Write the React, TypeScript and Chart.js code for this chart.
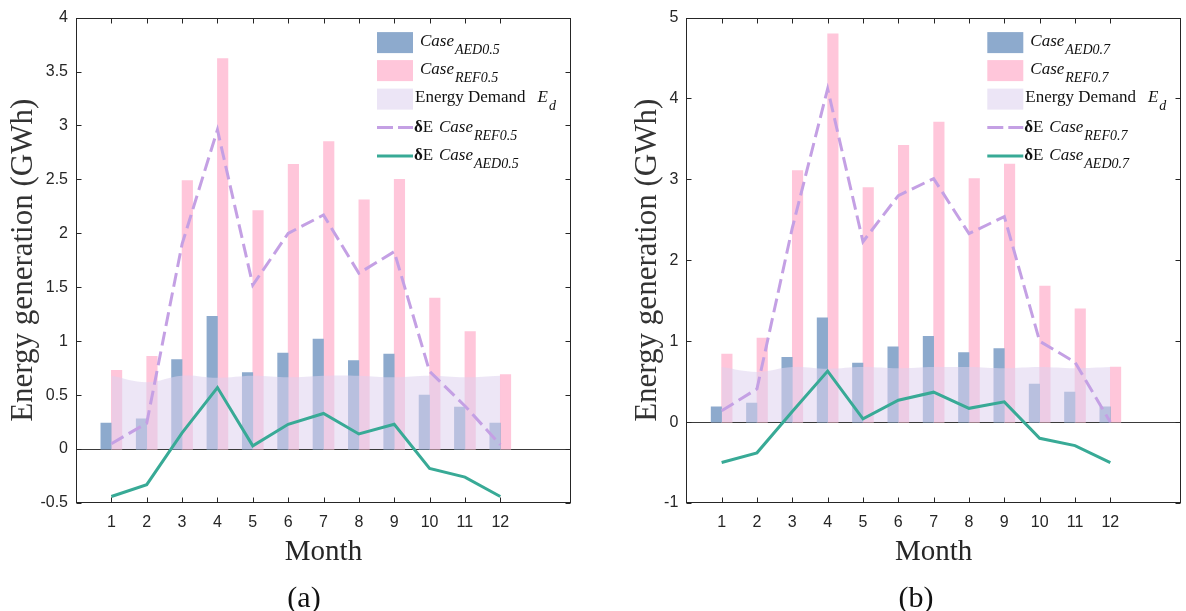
import React, { useEffect, useRef } from 'react';
import { Chart, registerables } from 'chart.js';

Chart.register(...registerables);

// ---------- data ----------
const months = [1, 2, 3, 4, 5, 6, 7, 8, 9, 10, 11, 12];
const demandEd = [0.68, 0.62, 0.68, 0.66, 0.68, 0.665, 0.68, 0.68, 0.665, 0.68, 0.665, 0.68];

const caseAED05 = [0.24, 0.28, 0.83, 1.23, 0.71, 0.89, 1.02, 0.82, 0.88, 0.5, 0.39, 0.24];
const caseREF05 = [0.73, 0.86, 2.49, 3.62, 2.21, 2.64, 2.85, 2.31, 2.5, 1.4, 1.09, 0.69];
const dECaseREF05 = [0.05, 0.24, 1.9, 2.96, 1.52, 2.0, 2.17, 1.63, 1.83, 0.72, 0.4, 0.04];
const dECaseAED05 = [-0.44, -0.33, 0.15, 0.57, 0.03, 0.23, 0.33, 0.14, 0.23, -0.18, -0.26, -0.44];

const caseAED07 = [0.19, 0.235, 0.8, 1.29, 0.73, 0.93, 1.06, 0.86, 0.91, 0.47, 0.37, 0.19];
const caseREF07 = [0.84, 1.04, 3.11, 4.8, 2.9, 3.42, 3.71, 3.01, 3.19, 1.68, 1.4, 0.68];
const dECaseREF07 = [0.14, 0.41, 2.4, 4.12, 2.23, 2.8, 3.01, 2.33, 2.54, 1.0, 0.74, 0.0];
const dECaseAED07 = [-0.5, -0.38, 0.13, 0.63, 0.04, 0.27, 0.37, 0.17, 0.25, -0.2, -0.29, -0.5];

const yTicksA = [-0.5, 0, 0.5, 1, 1.5, 2, 2.5, 3, 3.5, 4];
const yTicksB = [-1, 0, 1, 2, 3, 4, 5];

// ---------- styles ----------
const SERIF = '"Liberation Serif", "Times New Roman", serif';
const SANS = '"Liberation Sans", Arial, sans-serif';
const AXIS = '#262626';
const AED_COLOR = 'rgb(141,170,205)';
const REF_COLOR = 'rgb(255,198,218)';
const DEMAND_FILL = 'rgba(222,209,239,0.55)';
const DEMAND_PATCH = 'rgb(236,229,246)';
const DASH_COLOR = 'rgb(196,160,228)';
const TEAL = 'rgb(56,170,150)';

interface PanelCfg {
  left: number;
  yWidth: number;
  padRight: number;
  yTitlePad: number;
  yMin: number;
  yMax: number;
  yTicks: number[];
  aed: number[];
  ref: number[];
  dRef: number[];
  dAed: number[];
  tag: string;
}

const pts = (vals: number[]) => months.map((m, i) => ({ x: m, y: vals[i] }));

function drawLegend(chart: any, tag: string) {
  const { ctx, chartArea } = chart;
  const L = chartArea.left;
  const T = chartArea.top;
  const px = L + 301;
  const pw = 36;
  const rows = [25, 53, 81.5, 110, 138.5].map((v) => T + v);
  ctx.save();
  ctx.fillStyle = AED_COLOR;
  ctx.fillRect(px, rows[0] - 10.5, pw, 21);
  ctx.fillStyle = REF_COLOR;
  ctx.fillRect(px, rows[1] - 10.5, pw, 21);
  ctx.fillStyle = DEMAND_PATCH;
  ctx.fillRect(px, rows[2] - 10.5, pw, 21);

  ctx.lineWidth = 3;
  ctx.strokeStyle = DASH_COLOR;
  ctx.setLineDash([16, 5]);
  ctx.beginPath();
  ctx.moveTo(px, rows[3]);
  ctx.lineTo(px + pw, rows[3]);
  ctx.stroke();
  ctx.setLineDash([]);
  ctx.strokeStyle = TEAL;
  ctx.beginPath();
  ctx.moveTo(px, rows[4]);
  ctx.lineTo(px + pw, rows[4]);
  ctx.stroke();

  ctx.fillStyle = '#111';
  ctx.textAlign = 'left';
  ctx.textBaseline = 'alphabetic';
  const main = `italic 17px ${SERIF}`;
  const sub = `italic 14px ${SERIF}`;
  const caseSub = (x: number, base: number, s: string) => {
    ctx.font = main;
    ctx.fillText('Case', x, base);
    const w = ctx.measureText('Case').width;
    ctx.font = sub;
    ctx.fillText(s, x + w + 1, base + 8);
  };
  caseSub(L + 344, rows[0] + 3, 'AED' + tag);
  caseSub(L + 344, rows[1] + 3, 'REF' + tag);

  ctx.font = `17px ${SERIF}`;
  const ed = 'Energy Demand';
  ctx.fillText(ed, L + 339, rows[2] + 3);
  const wEd = ctx.measureText(ed).width;
  ctx.font = main;
  const ex = L + 339 + wEd + 12;
  ctx.fillText('E', ex, rows[2] + 3);
  const wE = ctx.measureText('E').width;
  ctx.font = sub;
  ctx.fillText('d', ex + wE + 1, rows[2] + 11);

  const dRow = (base: number, s: string) => {
    const x0 = L + 338;
    ctx.font = `bold 17px ${SERIF}`;
    ctx.fillText('δ', x0, base);
    const wd = ctx.measureText('δ').width;
    ctx.font = `17px ${SERIF}`;
    ctx.fillText('E', x0 + wd, base);
    caseSub(L + 363, base, s);
  };
  dRow(rows[3] + 4, 'REF' + tag);
  dRow(rows[4] + 4, 'AED' + tag);
  ctx.restore();
}

function makePlugin(tag: string) {
  return {
    id: 'frameAndLegend' + tag,
    beforeDatasetsDraw(chart: any) {
      const { ctx, chartArea } = chart;
      const y0 = Math.round(chart.scales.y.getPixelForValue(0)) + 0.5;
      ctx.save();
      ctx.strokeStyle = '#3a3a3a';
      ctx.lineWidth = 1;
      ctx.beginPath();
      ctx.moveTo(chartArea.left, y0);
      ctx.lineTo(chartArea.right, y0);
      ctx.stroke();
      ctx.restore();
    },
    afterDraw(chart: any) {
      const { ctx, chartArea } = chart;
      const l = Math.round(chartArea.left) + 0.5;
      const r = Math.round(chartArea.right) - 0.5;
      const t = Math.round(chartArea.top) + 0.5;
      const b = Math.round(chartArea.bottom) - 0.5;
      ctx.save();
      ctx.strokeStyle = AXIS;
      ctx.lineWidth = 1;
      ctx.strokeRect(l, t, r - l, b - t);
      const len = 5;
      ctx.beginPath();
      chart.scales.x.ticks.forEach((tk: any) => {
        const x = Math.round(chart.scales.x.getPixelForValue(tk.value)) + 0.5;
        ctx.moveTo(x, b);
        ctx.lineTo(x, b - len);
        ctx.moveTo(x, t);
        ctx.lineTo(x, t + len);
      });
      chart.scales.y.ticks.forEach((tk: any) => {
        const y = Math.round(chart.scales.y.getPixelForValue(tk.value)) + 0.5;
        ctx.moveTo(l, y);
        ctx.lineTo(l + len, y);
        ctx.moveTo(r, y);
        ctx.lineTo(r - len, y);
      });
      ctx.stroke();
      ctx.restore();
      drawLegend(chart, tag);
    },
  };
}

function Panel({ cfg }: { cfg: PanelCfg }) {
  const ref = useRef<HTMLCanvasElement>(null);
  useEffect(() => {
    const chart = new Chart(ref.current as HTMLCanvasElement, {
      type: 'bar',
      data: {
        datasets: [
          {
            type: 'line',
            label: 'dE REF',
            data: pts(cfg.dRef),
            borderColor: DASH_COLOR,
            borderWidth: 3,
            borderDash: [14, 6],
            pointRadius: 0,
            fill: false,
            tension: 0,
            order: 0,
          } as any,
          {
            type: 'line',
            label: 'dE AED',
            data: pts(cfg.dAed),
            borderColor: TEAL,
            borderWidth: 3,
            pointRadius: 0,
            fill: false,
            tension: 0,
            order: 0,
          } as any,
          {
            type: 'line',
            label: 'Energy Demand',
            data: pts(demandEd),
            borderWidth: 0,
            borderColor: 'rgba(0,0,0,0)',
            backgroundColor: DEMAND_FILL,
            pointRadius: 0,
            fill: 'origin',
            tension: 0.4,
            order: 1,
          } as any,
          {
            type: 'bar',
            label: 'AED',
            data: pts(cfg.aed),
            backgroundColor: AED_COLOR,
            borderWidth: 0,
            barThickness: 10.5,
            order: 2,
          } as any,
          {
            type: 'bar',
            label: 'REF',
            data: pts(cfg.ref),
            backgroundColor: REF_COLOR,
            borderWidth: 0,
            barThickness: 10.5,
            order: 2,
          } as any,
        ],
      },
      options: {
        responsive: false,
        animation: false,
        events: [],
        layout: { padding: { left: 0, right: cfg.padRight, top: 10, bottom: 0 } },
        plugins: { legend: { display: false }, tooltip: { enabled: false } },
        scales: {
          x: {
            type: 'linear',
            min: 0,
            max: 14,
            offset: false,
            afterBuildTicks: (s: any) => {
              s.ticks = months.map((v) => ({ value: v }));
            },
            afterFit: (s: any) => {
              s.height = 108;
            },
            grid: { display: false, drawTicks: false },
            border: { display: false },
            ticks: {
              font: { family: SANS, size: 16 },
              color: AXIS,
              padding: 10,
              maxRotation: 0,
              autoSkip: false,
              callback: (v: any) => String(v),
            },
            title: {
              display: true,
              text: 'Month',
              font: { family: SERIF, size: 29 },
              color: AXIS,
              padding: { top: 0, bottom: 41.6 },
            },
          },
          y: {
            type: 'linear',
            min: cfg.yMin,
            max: cfg.yMax,
            afterBuildTicks: (s: any) => {
              s.ticks = cfg.yTicks.map((v) => ({ value: v }));
            },
            afterFit: (s: any) => {
              s.width = cfg.yWidth;
            },
            grid: { display: false, drawTicks: false },
            border: { display: false },
            ticks: {
              font: { family: SANS, size: 16 },
              color: AXIS,
              padding: 8,
              callback: (v: any) => String(v),
            },
            title: {
              display: true,
              text: 'Energy generation (GWh)',
              font: { family: SERIF, size: 31 },
              color: '#333',
              padding: { top: cfg.yTitlePad, bottom: 0 },
            },
          },
        },
      } as any,
      plugins: [makePlugin(cfg.tag)],
    });
    return () => chart.destroy();
  }, []);
  return (
    <div style={{ position: 'absolute', left: cfg.left, top: 0, width: 593, height: 611 }}>
      <canvas ref={ref} width={593} height={611} style={{ display: 'block' }} />
    </div>
  );
}

const panelA: PanelCfg = {
  left: 0,
  yWidth: 76,
  padRight: 22,
  yTitlePad: 5.4,
  yMin: -0.5,
  yMax: 4,
  yTicks: yTicksA,
  aed: caseAED05,
  ref: caseREF05,
  dRef: dECaseREF05,
  dAed: dECaseAED05,
  tag: '0.5',
};

const panelB: PanelCfg = {
  left: 593,
  yWidth: 93.3,
  padRight: 5,
  yTitlePad: 36.4,
  yMin: -1,
  yMax: 5,
  yTicks: yTicksB,
  aed: caseAED07,
  ref: caseREF07,
  dRef: dECaseREF07,
  dAed: dECaseAED07,
  tag: '0.7',
};

const captionStyle = (cx: number): React.CSSProperties => ({
  position: 'absolute',
  left: cx - 50,
  top: 580,
  width: 100,
  textAlign: 'center',
  font: `30px ${SERIF}`,
  lineHeight: '34px',
  color: '#111',
});

export default function App() {
  return (
    <div
      style={{
        position: 'absolute',
        left: 0,
        top: 0,
        width: 1186,
        height: 611,
        background: '#fff',
        overflow: 'hidden',
      }}
    >
      <Panel cfg={panelA} />
      <Panel cfg={panelB} />
      <div style={captionStyle(304)}>(a)</div>
      <div style={captionStyle(916)}>(b)</div>
    </div>
  );
}
